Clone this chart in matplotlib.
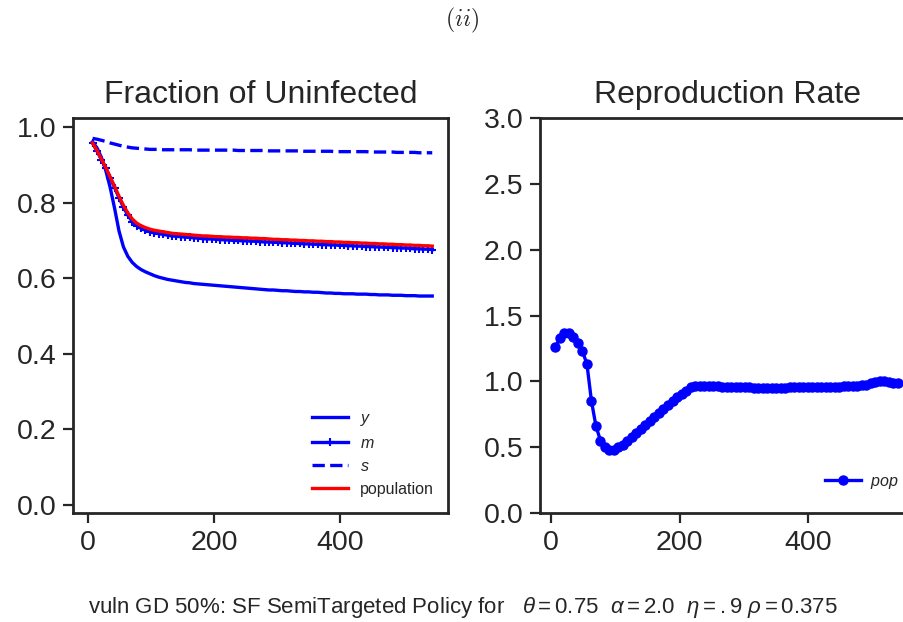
import matplotlib
matplotlib.use("Agg")
import matplotlib.pyplot as plt
from matplotlib.font_manager import FontProperties

# days (every 7th day)
days = list(range(7, 547, 7))
rate_days = list(range(7, 540, 7))

young = [0.961, 0.945, 0.920, 0.885, 0.840, 0.785, 0.725, 0.683, 0.658, 0.642,
         0.631, 0.623, 0.617, 0.612, 0.607, 0.603, 0.600, 0.597, 0.595, 0.593,
         0.591, 0.589, 0.588, 0.586, 0.585, 0.584, 0.583, 0.582, 0.581, 0.580,
         0.579, 0.578, 0.577, 0.576, 0.575, 0.574, 0.573, 0.572, 0.571, 0.570,
         0.569, 0.569, 0.568, 0.567, 0.567, 0.566, 0.565, 0.565, 0.564, 0.564,
         0.563, 0.563, 0.562, 0.561, 0.561, 0.560, 0.560, 0.559, 0.559, 0.559,
         0.558, 0.558, 0.558, 0.557, 0.557, 0.556, 0.556, 0.556, 0.555, 0.555,
         0.555, 0.554, 0.554, 0.554, 0.553, 0.553, 0.553, 0.553]

middle = [0.958, 0.937, 0.914, 0.891, 0.866, 0.840, 0.813, 0.788, 0.767, 0.750,
          0.739, 0.732, 0.727, 0.723, 0.720, 0.718, 0.716, 0.714, 0.712, 0.711,
          0.710, 0.709, 0.708, 0.707, 0.706, 0.705, 0.704, 0.704, 0.703, 0.702,
          0.702, 0.701, 0.700, 0.700, 0.699, 0.699, 0.698, 0.698, 0.697, 0.696,
          0.696, 0.695, 0.695, 0.694, 0.694, 0.693, 0.692, 0.692, 0.691, 0.691,
          0.690, 0.690, 0.689, 0.689, 0.688, 0.688, 0.687, 0.687, 0.686, 0.686,
          0.685, 0.685, 0.684, 0.684, 0.683, 0.683, 0.682, 0.682, 0.681, 0.681,
          0.680, 0.680, 0.679, 0.678, 0.678, 0.677, 0.677, 0.676]

senior = [0.970, 0.968, 0.965, 0.962, 0.958, 0.955, 0.952, 0.949, 0.947, 0.945,
          0.944, 0.943, 0.942, 0.941, 0.941, 0.941, 0.940, 0.940, 0.940, 0.940,
          0.940, 0.940, 0.940, 0.939, 0.939, 0.939, 0.939, 0.939, 0.939, 0.939,
          0.939, 0.939, 0.939, 0.938, 0.938, 0.938, 0.938, 0.938, 0.938, 0.938,
          0.937, 0.937, 0.937, 0.937, 0.937, 0.937, 0.937, 0.937, 0.936, 0.936,
          0.936, 0.936, 0.936, 0.936, 0.936, 0.935, 0.935, 0.935, 0.935, 0.935,
          0.935, 0.935, 0.935, 0.934, 0.934, 0.934, 0.934, 0.934, 0.934, 0.933,
          0.933, 0.933, 0.933, 0.933, 0.932, 0.932, 0.932, 0.932]

population = [0.958, 0.938, 0.915, 0.893, 0.868, 0.843, 0.817, 0.793, 0.773, 0.757,
              0.746, 0.739, 0.734, 0.730, 0.727, 0.725, 0.723, 0.721, 0.719, 0.718,
              0.717, 0.716, 0.715, 0.714, 0.713, 0.712, 0.712, 0.711, 0.710, 0.710,
              0.709, 0.709, 0.708, 0.708, 0.707, 0.707, 0.706, 0.706, 0.705, 0.705,
              0.704, 0.703, 0.703, 0.702, 0.702, 0.701, 0.701, 0.700, 0.700, 0.699,
              0.699, 0.698, 0.698, 0.697, 0.697, 0.696, 0.696, 0.695, 0.695, 0.694,
              0.694, 0.693, 0.693, 0.692, 0.692, 0.691, 0.691, 0.690, 0.690, 0.689,
              0.689, 0.688, 0.688, 0.687, 0.687, 0.686, 0.686, 0.685]

repro = [1.26, 1.33, 1.37, 1.37, 1.34, 1.29, 1.23, 1.13, 0.85, 0.66,
         0.55, 0.50, 0.48, 0.48, 0.50, 0.52, 0.55, 0.58, 0.61, 0.64,
         0.67, 0.70, 0.73, 0.76, 0.79, 0.82, 0.85, 0.88, 0.905, 0.93,
         0.955, 0.965, 0.965, 0.964, 0.963, 0.962, 0.961, 0.960, 0.959, 0.958,
         0.957, 0.956, 0.955, 0.954, 0.953, 0.952, 0.951, 0.950, 0.950,
         0.951, 0.952, 0.953, 0.954, 0.955, 0.955, 0.956, 0.956, 0.957, 0.957,
         0.958, 0.958, 0.959, 0.959, 0.960, 0.961, 0.962, 0.964, 0.966, 0.969,
         0.975, 0.985, 0.995, 1.005, 1.000, 0.995, 0.990, 0.988]

left_yticks = [0.0, 0.2, 0.4, 0.6, 0.8, 1.0]
right_yticks = [0.0, 0.5, 1.0, 1.5, 2.0, 2.5, 3.0]
xticks = [0, 200, 400]

plt.rcParams["font.family"] = ["Liberation Sans", "DejaVu Sans"]
plt.rcParams["mathtext.fontset"] = "custom"
plt.rcParams["mathtext.rm"] = "Liberation Sans"
plt.rcParams["mathtext.it"] = "Liberation Sans:italic"
plt.rcParams["text.color"] = "#262626"
plt.rcParams["axes.edgecolor"] = "#262626"
plt.rcParams["xtick.color"] = "#262626"
plt.rcParams["ytick.color"] = "#262626"

W, H = 904, 622
fig = plt.figure(figsize=(W / 100, H / 100), dpi=100)
ax1 = fig.add_axes([73 / W, (H - 513) / H, 375 / W, 395 / H])
ax2 = fig.add_axes([540 / W, (H - 513) / H, 375 / W, 395 / H])

lw = 2.4
ax1.plot(days, young, color="blue", lw=lw, label="$y$")
ax1.plot(days, middle, color="blue", lw=lw, marker="+", ms=6, mew=1.5, label="$m$")
ax1.plot(days, senior, color="blue", lw=lw, ls="--", label="$s$")
ax1.plot(days, population, color="red", lw=lw, label="population")
ax1.set_xlim(-24, 571)
ax1.set_ylim(-0.021, 1.024)
ax1.set_yticks(left_yticks)
ax1.set_xticks(xticks)
ax1.set_title("Fraction of Uninfected", fontsize=23, pad=11)
ax1.legend(loc="lower right", frameon=False, fontsize=11.5, handlelength=2.2,
           borderaxespad=0.6, labelspacing=0.5, bbox_to_anchor=(1.006, 0.0))

ax2.plot(rate_days, repro, color="blue", lw=lw, marker="o", ms=6.5, label="$pop$")
ax2.set_xlim(-17, 566)
ax2.set_ylim(0, 3.0)
ax2.set_yticks(right_yticks)
ax2.set_xticks(xticks)
ax2.set_title("Reproduction Rate", fontsize=23, pad=11)
ax2.legend(loc="lower right", frameon=False, fontsize=11.5, handlelength=2.2,
           handletextpad=0.6, bbox_to_anchor=(0.995, 0.02))

for ax in (ax1, ax2):
    for sp in ax.spines.values():
        sp.set_linewidth(2)
    ax.tick_params(labelsize=20.5, length=7, width=1.6, direction="out", pad=5,
                   top=False, right=False)

fp = FontProperties(size=17)
fp.set_math_fontfamily("cm")
fig.text(462 / W, 1 - 20 / H, "$(ii)$", ha="center", va="center", fontproperties=fp)
fig.text(463 / W, 15 / H,
         r"vuln GD 50%: SF SemiTargeted Policy for   $\theta = 0.75$  $\alpha = 2.0$  "
         r"$\eta = .9$ $\rho = 0.375$",
         ha="center", va="center", fontsize=16)

fig.savefig("out.png", dpi=100)
